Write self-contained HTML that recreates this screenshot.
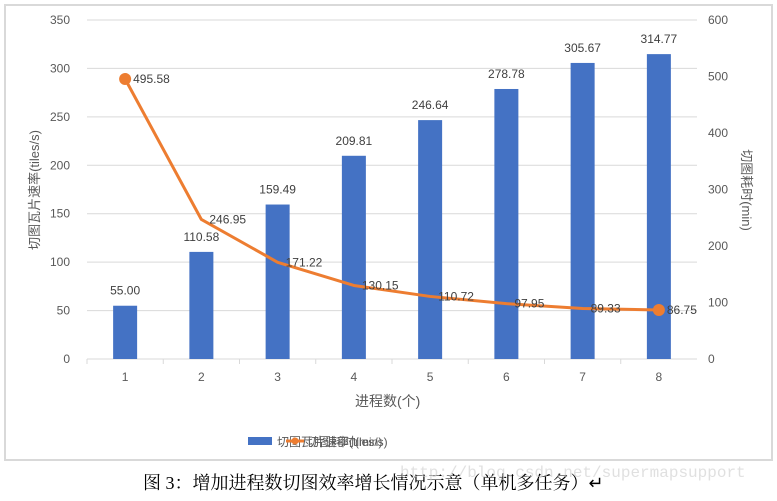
<!DOCTYPE html>
<html><head><meta charset="utf-8"><style>
body{margin:0;background:#fff;width:777px;height:496px;overflow:hidden}
svg text{font-family:"Liberation Sans","Noto Sans CJK SC",sans-serif}
</style></head><body>
<svg width="777" height="496">
<rect x="5" y="5" width="767" height="455" fill="#fff" stroke="#d9d9d9" stroke-width="2"/>
<g id="grid"></g><g id="bars"></g><g id="line"></g><g id="labels"></g>
<text x="355" y="406" font-size="14" fill="#595959">进程数(个)</text>
<text transform="translate(39,190) rotate(-90)" text-anchor="middle" font-size="13" fill="#595959">切图瓦片速率(tiles/s)</text>
<text transform="translate(742,190) rotate(90)" text-anchor="middle" font-size="13" fill="#595959">切图耗时(min)</text>
<g>
<rect x="248" y="437" width="24" height="8" fill="#4472c4"/>
<text x="277" y="446" font-size="12" fill="#595959">切图瓦片速率(tiles/s)</text>
<line x1="286" y1="441" x2="304" y2="441" stroke="#ed7d31" stroke-width="3" transform="translate(0,0)"/>
<circle cx="295" cy="441" r="3.5" fill="#ed7d31"/>
<text x="307" y="446" font-size="12" fill="#595959">切图耗时(min)</text>
</g>
<text x="143" y="489" font-size="18" fill="#000" style="font-family:'Liberation Serif','Noto Serif CJK SC',serif">图 3：增加进程数切图效率增长情况示意（单机多任务）↵</text>
<text x="400" y="477" font-size="16" fill="#ccc" style="font-family:'Liberation Mono',monospace" opacity="0.6">http://blog.csdn.net/supermapsupport</text>
</svg>
<script>
const categories=["1","2","3","4","5","6","7","8"];
const rateValues=[55.00,110.58,159.49,209.81,246.64,278.78,305.67,314.77];
const timeValues=[495.58,246.95,171.22,130.15,110.72,97.95,89.33,86.75];
const leftTicks=[0,50,100,150,200,250,300,350];
const rightTicks=[0,100,200,300,400,500,600];
const NS="http://www.w3.org/2000/svg";
const X0=87,X1=697,Y0=359,Y1=20;
const yL=v=>Y0-(v/350)*(Y0-Y1);
const yR=v=>Y0-(v/600)*(Y0-Y1);
const step=(X1-X0)/categories.length;
const xC=i=>X0+step*(i+0.5);
function mk(tag,attrs,parent,text){const e=document.createElementNS(NS,tag);for(const k in attrs)e.setAttribute(k,attrs[k]);if(text!==undefined)e.textContent=text;document.getElementById(parent).appendChild(e);return e;}
leftTicks.forEach(t=>{
 const l=mk("line",{x1:X0,x2:X1,y1:yL(t),y2:yL(t),stroke:"#d9d9d9","stroke-width":1},"grid");
 
 
 const tx=mk("text",{x:70,y:yL(t)+4,"text-anchor":"end","font-size":12,fill:"#595959"},"grid",String(t));
 
 
});
rightTicks.forEach(t=>{
 const tx=mk("text",{x:708,y:yR(t)+4,"font-size":12,fill:"#595959"},"grid",String(t));
 
 
});
categories.forEach((c,i)=>{
 const tk=mk("line",{x1:X0+step*i,x2:X0+step*i,y1:Y0,y2:Y0+5,stroke:"#d9d9d9"},"grid");
 
 
 const tx=mk("text",{x:xC(i),y:381,"text-anchor":"middle","font-size":12,fill:"#595959"},"grid",c);
 
 
 const b=mk("rect",{x:xC(i)-12,y:yL(rateValues[i]),width:24,height:Y0-yL(rateValues[i]),fill:"#4472c4"},"bars");
 
 
 const bl=mk("text",{x:xC(i),y:yL(rateValues[i])-11,"text-anchor":"middle","font-size":12,fill:"#404040"},"labels",rateValues[i].toFixed(2));
 
 
 const ll=mk("text",{x:xC(i)+8,y:yR(timeValues[i])+4,"font-size":12,fill:"#404040"},"labels",timeValues[i].toFixed(2));
 
 
});
const pts=timeValues.map((v,i)=>xC(i)+","+yR(v)).join(" ");
const pl=mk("polyline",{points:pts,fill:"none",stroke:"#ed7d31","stroke-width":3,"stroke-linejoin":"round"},"line");


[0,timeValues.length-1].forEach(i=>{
 const c=mk("circle",{cx:xC(i),cy:yR(timeValues[i]),r:6,fill:"#ed7d31"},"line");
 
 
});
</script>
</body></html>
